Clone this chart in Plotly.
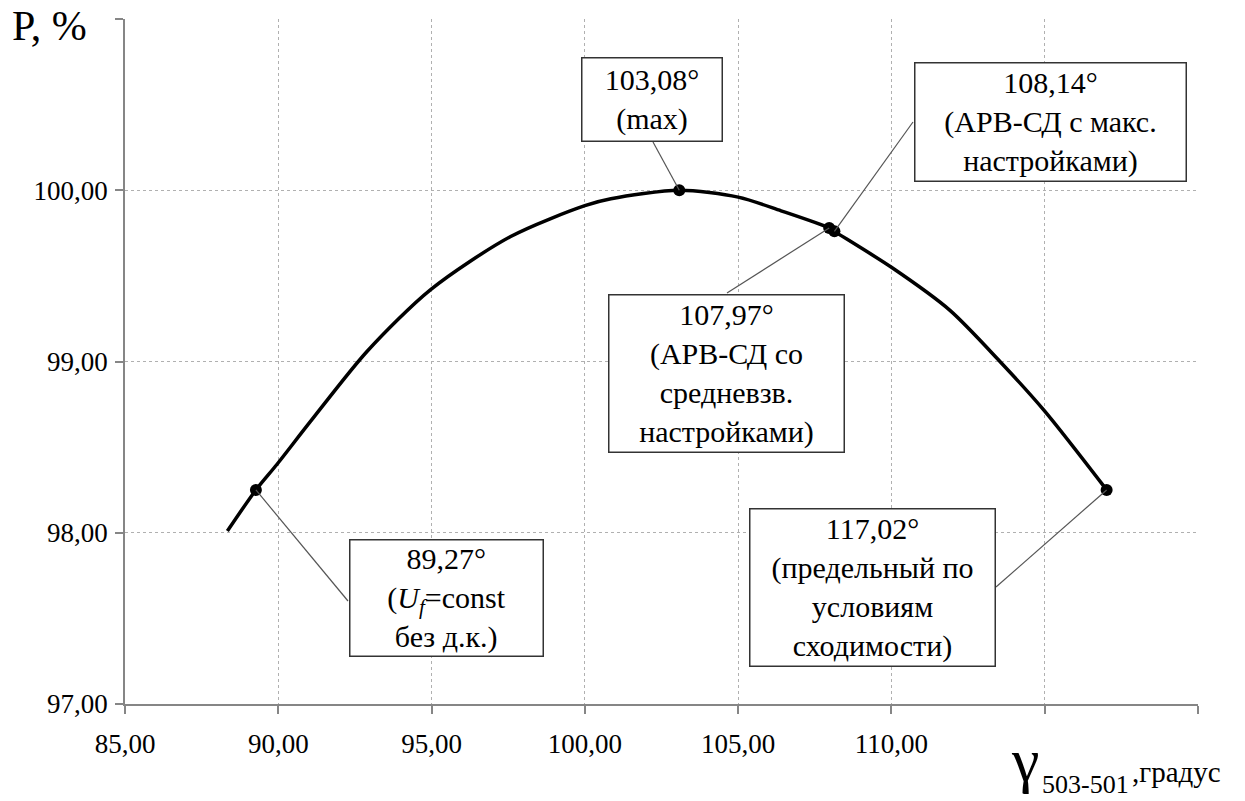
import plotly.graph_objects as go

# --- data ---
gamma = [88.34, 89.27, 89.96, 91.05, 92.90, 94.97, 97.58, 100.00, 100.85, 103.08,
         105.00, 106.40, 107.97, 108.14, 110.00, 111.90, 113.54, 115.00, 117.02]
power = [98.01, 98.25, 98.40, 98.65, 99.06, 99.42, 99.73, 99.91, 99.95, 100.00,
         99.96, 99.88, 99.78, 99.76, 99.55, 99.30, 99.00, 98.71, 98.25]

mark_gamma = [89.27, 103.08, 107.97, 108.14, 117.02]
mark_power = [98.25, 100.00, 99.78, 99.76, 98.25]
mark_text = [
    "89,27°<br>(<i>U<sub>f</sub></i>=const<br>без д.к.)",
    "103,08°<br>(max)",
    "107,97°<br>(АРВ-СД со<br>средневзв.<br>настройками)",
    "108,14°<br>(АРВ-СД с макс.<br>настройками)",
    "117,02°<br>(предельный по<br>условиям<br>сходимости)",
]

# labelled ticks (the 115/120 and 101 ticks exist but carry no label)
x_ticks = [85, 90, 95, 100, 105, 110]
x_tick_text = ["85,00", "90,00", "95,00", "100,00", "105,00", "110,00"]
y_ticks = [97, 98, 99, 100]
y_tick_text = ["97,00", "98,00", "99,00", "100,00"]

# --- layout geometry (pixels) ---
W, H = 1245, 801
L, R, T, B = 125, 47, 19, 97
XMIN, XMAX, YMIN, YMAX = 85, 120, 97, 101
pw, ph = W - L - R, H - T - B

def px2x(px):
    return XMIN + (px - L) / pw * (XMAX - XMIN)

def py2y(py):
    return YMIN + (H - B - py) / ph * (YMAX - YMIN)

def ppx(px):
    return (px - L) / pw

def ppy(py):
    return (H - B - py) / ph

FONT = "Liberation Serif, Times New Roman, serif"
GRID = "#b0b0b0"
AXIS = "#868686"

# box centers/sizes (pixels) and leader start points (pixels), in mark order
boxes = [
    (446, 597.5, 196, 119, 348, 601),
    (651.5, 99, 143, 86, 653, 142),
    (726, 373, 238, 160, 727, 293),
    (1050, 122, 274, 121, 913, 122),
    (872, 587, 248, 160, 996, 587),
]

fig = go.Figure()
fig.add_trace(go.Scatter(
    x=gamma, y=power, mode="lines",
    line=dict(color="black", width=3.5, shape="spline", smoothing=0.8),
    hoverinfo="skip", showlegend=False))

shapes = []
annotations = []
for (cx, cy, bw, bh, lx, ly), gx, gy, txt in zip(boxes, mark_gamma, mark_power, mark_text):
    shapes.append(dict(type="line", xref="x", yref="y",
                       x0=px2x(lx), y0=py2y(ly), x1=gx, y1=gy,
                       line=dict(color="#555555", width=1.2), layer="above"))
    annotations.append(dict(
        x=px2x(cx), y=py2y(cy), xref="x", yref="y", text=txt, showarrow=False,
        xanchor="center", yanchor="middle", width=bw - 4, height=bh - 4,
        bgcolor="white", bordercolor="#333333", borderwidth=1.5, borderpad=0,
        font=dict(family=FONT, size=30, color="black"), align="center"))

fig.add_trace(go.Scatter(
    x=mark_gamma, y=mark_power, mode="markers",
    marker=dict(color="black", size=12),
    hoverinfo="skip", showlegend=False))

# axis titles
annotations.append(dict(x=ppx(10), y=ppy(26), xref="paper", yref="paper",
                        text="P, %", showarrow=False, xanchor="left", yanchor="middle",
                        font=dict(family=FONT, size=42, color="black")))
annotations.append(dict(x=ppx(1009), y=ppy(760), xref="paper", yref="paper",
                        text="γ", showarrow=False, xanchor="left", yanchor="middle",
                        font=dict(family=FONT, size=62, color="black")))
annotations.append(dict(x=ppx(1040), y=ppy(784.6), xref="paper", yref="paper",
                        text="503-501", showarrow=False, xanchor="left", yanchor="middle",
                        font=dict(family=FONT, size=26, color="black")))
annotations.append(dict(x=ppx(1130), y=ppy(772), xref="paper", yref="paper",
                        text=",градус", showarrow=False, xanchor="left", yanchor="middle",
                        font=dict(family=FONT, size=29, color="black")))

fig.update_layout(
    width=W, height=H,
    margin=dict(l=L, r=R, t=T, b=B, pad=0),
    paper_bgcolor="white", plot_bgcolor="white",
    shapes=shapes, annotations=annotations,
    font=dict(family=FONT, size=27, color="black"),
    xaxis=dict(range=[XMIN, XMAX], tickvals=x_ticks, ticktext=x_tick_text,
               showgrid=True, gridcolor=GRID, griddash="dot", gridwidth=1,
               showline=True, linecolor=AXIS, linewidth=1.5,
               ticks="outside", ticklen=8, tickcolor=AXIS, tickwidth=1.5,
               minor=dict(tick0=85, dtick=5, ticks="outside", ticklen=8,
                          tickcolor=AXIS, tickwidth=1.5, showgrid=True,
                          gridcolor=GRID, griddash="dot", gridwidth=1),
               zeroline=False, ticklabelstandoff=7,
               tickfont=dict(family=FONT, size=27, color="black")),
    yaxis=dict(range=[YMIN, YMAX], tickvals=y_ticks, ticktext=y_tick_text,
               showgrid=True, gridcolor=GRID, griddash="dot", gridwidth=1,
               showline=True, linecolor=AXIS, linewidth=1.5,
               ticks="outside", ticklen=8, tickcolor=AXIS, tickwidth=1.5,
               minor=dict(tick0=97, dtick=1, ticks="outside", ticklen=8,
                          tickcolor=AXIS, tickwidth=1.5, showgrid=True,
                          gridcolor=GRID, griddash="dot", gridwidth=1),
               zeroline=False, ticklabelstandoff=2,
               tickfont=dict(family=FONT, size=27, color="black")),
)

fig.write_html("out.html")
